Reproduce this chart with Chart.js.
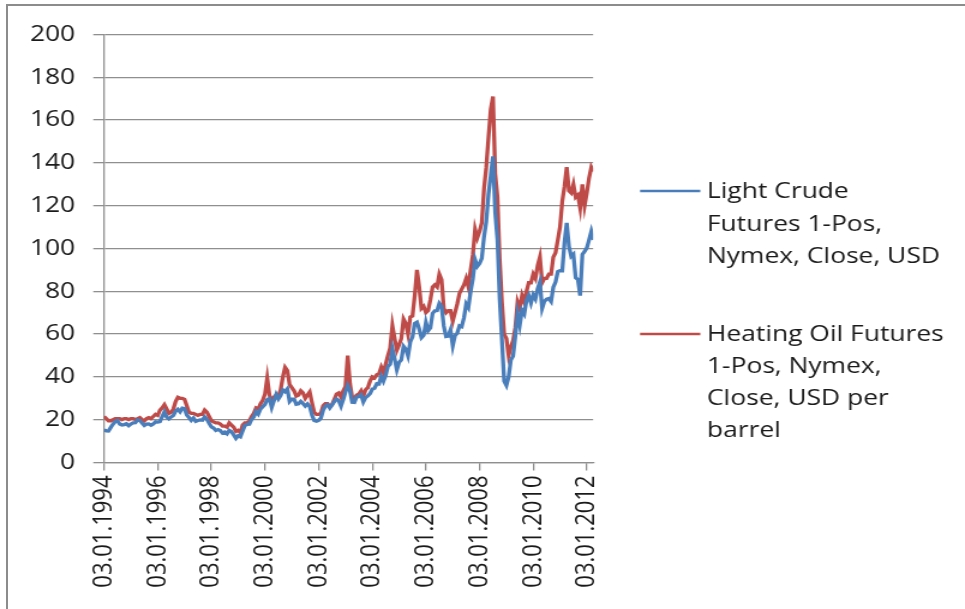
<!DOCTYPE html>
<html><head><meta charset="utf-8">
<script src="https://cdn.jsdelivr.net/npm/chart.js@4/dist/chart.umd.min.js"></script>
<style>
html,body{margin:0;padding:0;background:#fff;}
#wrap{position:relative;width:965px;height:609px;overflow:hidden;background:#fff;}
#c{position:absolute;left:0;top:0;transform-origin:0 0;transform:scaleX(1.2002);}
#frame{position:absolute;left:6px;top:4px;width:1200px;height:800px;border-left:2px solid #8c8c8c;border-top:2px solid #8c8c8c;pointer-events:none;}
</style></head>
<body><div id="wrap"><canvas id="c" width="804" height="609"></canvas><div id="frame"></div></div>
<script>
// Monthly readings, Jan 1994 .. Apr 2012 (USD per barrel)
const startYear = 1994;
const lightCrude = [
  15.2,14.8,14.7,16.4,17.9,19.1,19.6,18.0,17.5,17.7,18.1,17.2,
  18.0,18.5,18.6,19.9,19.7,18.4,17.3,17.9,18.0,17.4,18.0,19.0,
  18.9,19.1,21.4,23.6,21.2,20.4,21.3,22.0,24.0,24.9,23.7,25.4,
  25.2,22.2,21.0,19.7,20.8,19.2,19.6,19.9,19.8,21.3,20.2,18.3,
  16.7,16.1,15.0,15.4,14.9,13.7,14.2,13.4,15.0,14.4,12.9,11.3,
  12.5,12.0,14.7,17.3,17.8,17.9,20.1,21.3,23.9,22.6,25.0,26.1,
  27.2,29.4,29.9,25.7,28.8,31.8,29.7,31.3,33.9,33.1,34.4,28.5,
  29.6,29.6,27.2,27.4,28.6,27.6,26.4,27.4,26.2,22.2,19.6,19.3,
  19.7,20.7,24.4,26.3,27.0,25.5,26.9,28.4,29.7,28.9,26.3,29.4,
  32.9,35.9,33.5,28.2,28.1,30.7,30.8,31.6,28.3,30.3,31.1,32.2,
  34.3,34.7,36.8,36.7,40.3,38.0,40.7,44.9,45.9,53.1,48.5,43.3,
  46.8,48.0,54.3,53.0,49.8,56.3,58.7,65.0,65.6,62.4,58.3,59.4,
  65.5,61.6,62.9,69.7,70.9,71.0,74.4,73.0,63.8,58.9,59.1,62.0,
  54.5,59.3,60.4,63.9,63.5,67.5,74.1,72.4,79.9,85.8,94.8,91.7,
  93.0,95.4,105.5,112.6,125.4,134.0,143.0,116.7,104.1,76.6,57.3,38.0,
  36.0,40.0,47.9,49.7,59.0,69.6,64.2,71.1,69.4,75.7,78.0,74.5,
  78.3,76.4,81.2,84.3,72.0,75.3,76.3,76.6,75.2,81.9,84.3,89.2,
  89.6,89.6,102.9,112.0,100.9,96.3,97.3,86.3,85.5,78.0,97.2,98.6,
  100.3,104.0,108.0,104.0
];
const heatingOil = [
  21.5,20.5,19.5,19.5,20.0,20.5,20.5,20.5,20.0,20.5,20.5,20.0,
  20.5,20.5,20.0,20.5,21.0,20.0,19.5,20.5,21.0,20.5,21.5,22.5,
  22.0,24.5,25.5,27.0,25.0,23.0,23.5,25.0,28.5,30.5,30.0,30.0,
  29.5,26.5,23.5,23.0,23.0,22.5,22.0,22.5,22.5,24.5,23.5,21.5,
  19.5,19.0,18.5,18.5,18.0,17.0,17.0,16.5,18.5,17.5,16.5,14.5,
  15.0,14.0,17.5,18.5,18.5,19.5,21.5,23.0,25.5,25.0,27.5,29.0,
  32.0,39.5,31.5,28.5,30.5,31.5,31.0,34.0,40.0,44.5,43.0,36.5,
  35.0,33.5,31.0,31.5,33.5,32.5,30.0,31.5,33.0,28.0,23.5,22.5,
  22.5,23.0,26.5,27.5,27.5,26.0,27.0,29.5,32.0,32.5,30.5,33.5,
  35.5,50.0,37.0,30.5,30.0,31.5,32.0,33.5,31.0,34.0,35.0,38.0,
  40.0,39.5,41.0,41.5,44.5,42.0,46.0,50.0,53.5,64.0,58.0,52.5,
  55.0,58.0,67.0,65.0,60.0,68.0,68.5,78.0,90.0,82.0,72.0,73.0,
  70.0,71.0,76.0,82.0,83.0,82.0,88.0,85.5,72.0,70.0,71.0,71.0,
  66.0,70.0,74.0,79.0,81.0,83.0,86.0,82.0,90.0,97.0,109.0,105.0,
  108.0,112.0,128.0,138.0,152.0,165.0,171.0,135.0,124.0,95.0,75.0,60.0,
  58.0,50.0,54.0,57.0,63.0,75.0,72.0,78.0,75.0,80.0,84.0,84.0,
  88.0,86.0,92.0,96.0,84.0,86.0,86.0,88.0,88.0,96.0,98.0,104.0,
  110.0,122.0,129.0,138.0,127.0,126.0,130.0,124.0,125.0,119.0,130.0,120.0,
  126.0,133.0,138.0,136.0
];
const tickYears = [1994,1996,1998,2000,2002,2004,2006,2008,2010,2012];
const tickLabels = ['03.01.1994','03.01.1996','03.01.1998','03.01.2000','03.01.2002',
                    '03.01.2004','03.01.2006','03.01.2008','03.01.2010','03.01.2012'];
const seriesNames = [
  ['Light Crude','Futures 1-Pos,','Nymex, Close, USD'],
  ['Heating Oil Futures','1-Pos, Nymex,','Close, USD per','barrel']
];
const seriesColors = ['#4a7ebb','#be4b48'];

const toPoints = arr => arr.map((v,i)=>({x:startYear + i/12, y:v}));

const FONT = '"Open Sans", "DejaVu Sans", sans-serif';
const GRID = '#8f8f8f';
const TEXT = '#1a1a1a';

const legendPlugin = {
  id:'sideLegend',
  afterDraw(chart){
    const ctx = chart.ctx;
    ctx.save();
    ctx.font = '22px ' + FONT;
    ctx.fillStyle = TEXT;
    ctx.textBaseline = 'middle';
    ctx.textAlign = 'left';
    const blocks = [{y:191, dy:32.5}, {y:334, dy:32}];
    blocks.forEach((b,k)=>{
      ctx.strokeStyle = seriesColors[k];
      ctx.lineWidth = 2.5;
      ctx.beginPath(); ctx.moveTo(533.3,b.y); ctx.lineTo(583.5,b.y); ctx.stroke();
      seriesNames[k].forEach((t,j)=>ctx.fillText(t, 589, b.y + 1 + j*b.dy));
    });
    ctx.restore();
  }
};

new Chart(document.getElementById('c'), {
  type:'line',
  data:{datasets:[
    {label:seriesNames[0].join(' '), data:toPoints(lightCrude), borderColor:seriesColors[0], borderWidth:3.3, pointRadius:0, tension:0},
    {label:seriesNames[1].join(' '), data:toPoints(heatingOil), borderColor:seriesColors[1], borderWidth:3.3, pointRadius:0, tension:0}
  ]},
  options:{
    responsive:false, animation:false, devicePixelRatio:1,
    layout:{padding:{left:0, top:34.5, right:309.8, bottom:0}},
    plugins:{legend:{display:false}, tooltip:{enabled:false}},
    scales:{
      x:{type:'linear', min:1994, max:2012.235,
        afterBuildTicks(s){ s.ticks = tickYears.map(v=>({value:v})); },
        afterFit(s){ s.height = 146.5; },
        grid:{display:true, drawOnChartArea:false, drawTicks:true, tickLength:8, color:GRID, lineWidth:1.3},
        border:{display:true, color:GRID, width:1.3},
        ticks:{autoSkip:false, maxRotation:90, minRotation:90, padding:5, color:TEXT, font:{family:FONT, size:22},
          callback:(v,i)=>tickLabels[i]}
      },
      y:{min:0, max:200,
        afterFit(s){ s.width = 86.7; },
        grid:{color:GRID, lineWidth:1.3, tickLength:9},
        border:{display:true, color:GRID, width:1.3},
        ticks:{stepSize:20, padding:15, color:TEXT, font:{family:FONT, size:22}}
      }
    }
  },
  plugins:[legendPlugin]
});
</script>
</body></html>
